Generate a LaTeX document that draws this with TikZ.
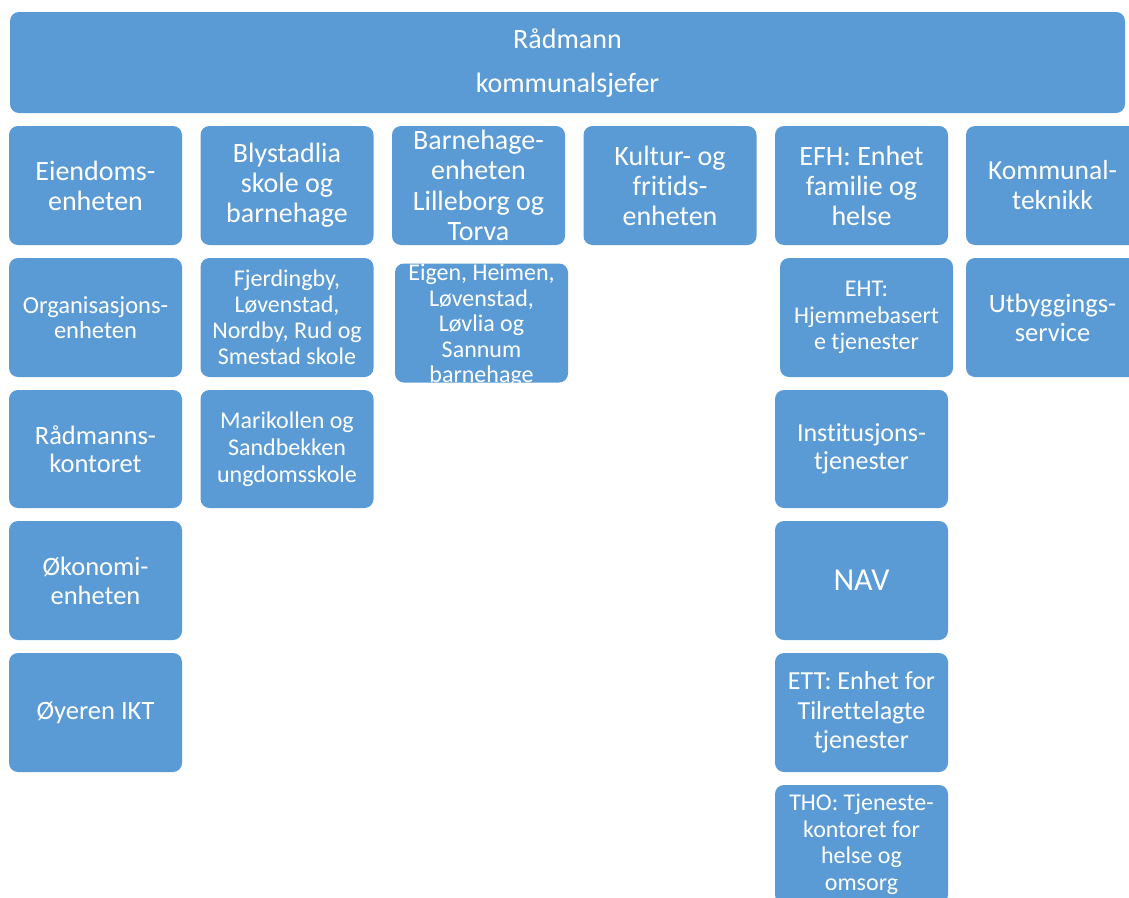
\documentclass[tikz,border=0pt]{standalone}
\usepackage{fontspec}
\setmainfont{Carlito}[Ligatures={NoCommon,NoContextual},Contextuals={NoAlternate}]
\definecolor{boxblue}{HTML}{5B9BD5}
\newcommand\fsz[2]{\fontsize{#1}{#2}\selectfont}
\tikzset{
  unit/.style={fill=boxblue, rounded corners=9pt, text=white, align=center,
    inner sep=0pt, minimum width=173pt, minimum height=119pt},
}
\begin{document}
\begin{tikzpicture}[x=1pt,y=-1pt]
\useasboundingbox (0,0) rectangle (1129,897);
\clip (0,0) rectangle (1129,897);
\fill[white] (0,0) rectangle (1129,897);
% top
\node[unit, minimum width=1115pt, minimum height=101pt, font=\fsz{28}{44}] (top) at (567.5,62.5) {Rådmann\\kommunalsjefer};
% row 1
\node[unit, font=\fsz{28}{30}] (eiendom) at (95.5,185.5) {Eiendoms-\\enheten};
\node[unit, font=\fsz{28}{30}] (blystad) at (287,185.5) {Blystadlia\\skole og\\barnehage};
\node[unit, font=\fsz{28}{30.5}] (barnehage) at (478.5,185.5) {Barnehage-\\enheten\\Lilleborg og\\Torva};
\node[unit, font=\fsz{28}{30}] (kultur) at (670,185.5) {Kultur- og\\frit\kern0pt ids-\\enheten};
\node[unit, font=\fsz{28}{30}] (efh) at (861.5,185.5) {EFH: Enhet\\familie og\\helse};
\node[unit, font=\fsz{27.5}{30}] (kommunal) at (1052.5,185.5) {Kommunal-\\teknikk};
% row 2
\node[unit, font=\fsz{24.5}{25}] (org) at (95.5,317.5) {Organisasjons-\\enheten};
\node[unit, font=\fsz{24}{26}] (fjerd) at (287,317.5) {Fjerdingby,\\Løvenstad,\\Nordby, Rud og\\Smestad skole};
\node[unit, font=\fsz{24}{25.5}] (eigen) at (481.5,323) {};
\node[text=white, align=center, inner sep=0pt, font=\fsz{24}{25.5}] (eigentext) at (481.5,325.5) {Eigen, Heimen,\\Løvenstad,\\Løvlia og\\Sannum\\barnehage};
\node[unit, font=\fsz{24}{26.5}] (eht) at (866.5,317.5) {EHT:\\Hjemmebasert\\e tjenester};
\node[unit, font=\fsz{26.5}{29}] (utbygg) at (1052.5,317.5) {Utbyggings-\\service};
% row 3
\node[unit, minimum height=118pt, font=\fsz{26.5}{28}] (radm) at (95.5,449) {Rådmanns-\\kontoret};
\node[unit, minimum height=118pt, font=\fsz{24}{27}] (marik) at (287,449) {Marikollen og\\Sandbekken\\ungdomsskole};
\node[unit, minimum height=118pt, font=\fsz{26}{28}] (inst) at (861.5,449) {Inst\kern0pt itusjons-\\tjenester};
% row 4
\node[unit, font=\fsz{26.5}{29}] (okon) at (95.5,580.5) {Økonomi-\\enheten};
\node[unit, font=\fsz{32}{34}] (nav) at (861.5,580.5) {NAV};
% row 5
\node[unit, font=\fsz{26.5}{29}] (ikt) at (95.5,712.5) {Øyeren IKT};
\node[unit, font=\fsz{26}{29.5}] (ett) at (861.5,712.5) {ETT: Enhet for\\Tilret\kern0pt telagte\\tjenester};
% row 6
\node[unit, font=\fsz{24}{26.5}] (tho) at (861.5,844.5) {THO: Tjeneste-\\kontoret for\\helse og\\omsorg};
\end{tikzpicture}
\end{document}
